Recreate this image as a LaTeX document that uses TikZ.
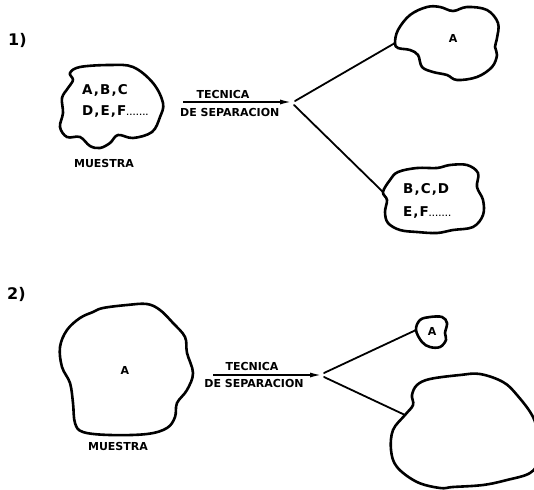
\documentclass[tikz,border=0pt]{standalone}
\usepackage{fontspec}
\setmainfont{DejaVu Sans}
\newfontfamily\lettr{DejaVu Sans}
\newfontfamily\lettrwide{DejaVu Sans}[LetterSpace=8]
\usetikzlibrary{arrows.meta}
\tikzset{
  blob/.style={line width=2.6pt, line join=round},
  link/.style={line width=1.8pt, line cap=round},
  flow/.style={line width=1.8pt, -{Latex[length=12pt,width=5pt]}},
  lab/.style={inner sep=0pt, anchor=base, font=\lettr\bfseries\fontsize{11}{11}\selectfont},
  labw/.style={lab, anchor=base west},
  list/.style={inner sep=0pt, anchor=base west, font=\lettrwide\bfseries\fontsize{13.5}{13.5}\selectfont},
  num/.style={inner sep=0pt, anchor=base west, font=\bfseries\fontsize{16}{16}\selectfont},
}
\newcommand{\dotrow}{{\fontsize{7}{7}\selectfont .......}}
\begin{document}
\begin{tikzpicture}[x=1pt, y=-1pt]
\useasboundingbox (0,0) rectangle (534,489);

% ---------- case 1 ----------
\node[num] (n1) at (8,46) {1)};

\draw[blob] plot[smooth cycle, tension=0.6] coordinates {
  (70,73) (80,67) (110,65) (133,67) (153,83) (163,103) (160,117) (152,132)
  (133,138) (118,135) (110,143) (100,148) (90,146) (80,137) (67,137)
  (60,127) (63,113) (62,98) (68,88) (73,80)};
\node[list] (m1a) at (82,95) {A,B,C};
\node[list] (m1b) at (82,116) {D,E,F\dotrow};
\node[lab] (mu1) at (104,167) {MUESTRA};

\coordinate (s1) at (183,102);
\coordinate (j1) at (292,102);
\draw[flow] (s1) -- (j1);
\node[lab] (tc1) at (223,99) {TECNICA};
\node[labw] (ds1) at (180,117) {DE SEPARACION};

\draw[blob] plot[smooth cycle, tension=0.6] coordinates {
  (395,43) (398,30) (410,15) (427,7) (440,7) (453,11) (467,7) (487,10)
  (498,23) (497,38) (495,47) (497,55) (492,67) (477,77) (457,80) (447,75)
  (433,72) (422,67) (418,55) (410,50) (398,48)};
\coordinate (pA1) at (395,43);
\node[lab] (a1) at (453,43) {A};

\draw[blob] plot[smooth cycle, tension=0.6] coordinates {
  (383,192) (390,180) (398,172) (417,168) (437,168) (450,165) (467,165)
  (478,173) (477,187) (483,200) (483,215) (473,227) (453,230) (437,233)
  (417,232) (400,230) (388,223) (385,212) (387,200)};
\coordinate (pB1) at (383,192);
\node[list] (r1a) at (403,193) {B,C,D};
\node[list] (r1b) at (403,216) {E,F\dotrow};

\coordinate (ju1) at (295,101);
\coordinate (jd1) at (294,105);
\draw[link] (ju1) -- (pA1);
\draw[link] (jd1) -- (pB1);

% ---------- case 2 ----------
\node[num] (n2) at (7,299) {2)};

\draw[blob] plot[smooth cycle, tension=0.6] coordinates {
  (103,308) (127,305) (147,304) (160,310) (173,323) (185,337) (187,353)
  (193,373) (187,390) (177,403) (175,417) (167,428) (147,434) (110,435)
  (83,432) (75,423) (73,403) (70,383) (62,367) (60,347) (67,330) (80,318)
  (93,312)};
\node[lab] (a2) at (125,374) {A};
\node[lab] (mu2) at (118,450) {MUESTRA};

\coordinate (s2) at (213,375);
\coordinate (j2) at (322,375);
\draw[flow] (s2) -- (j2);
\node[lab] (tc2) at (252,370) {TECNICA};
\node[lab] (ds2) at (254,387) {DE SEPARACION};

\draw[blob] plot[smooth cycle, tension=0.6] coordinates {
  (416,330) (420,320) (430,317) (442,317) (447,323) (445,333) (446,340)
  (440,347) (430,347) (422,342)};
\coordinate (pA2) at (416,330);
\node[lab] (a3) at (432,335) {A};

\draw[blob] plot[smooth cycle, tension=0.6] coordinates {
  (405,415) (413,405) (412,395) (417,385) (430,379) (460,375) (480,374)
  (503,382) (517,395) (533,417) (539,440) (539,460) (530,473) (507,480)
  (483,485) (453,487) (440,488) (417,482) (397,467) (391,450) (393,430)};
\coordinate (pR2) at (405,415);

\coordinate (ju2) at (324,373);
\coordinate (jd2) at (324,377);
\draw[link] (ju2) -- (pA2);
\draw[link] (jd2) -- (pR2);
\end{tikzpicture}
\end{document}
